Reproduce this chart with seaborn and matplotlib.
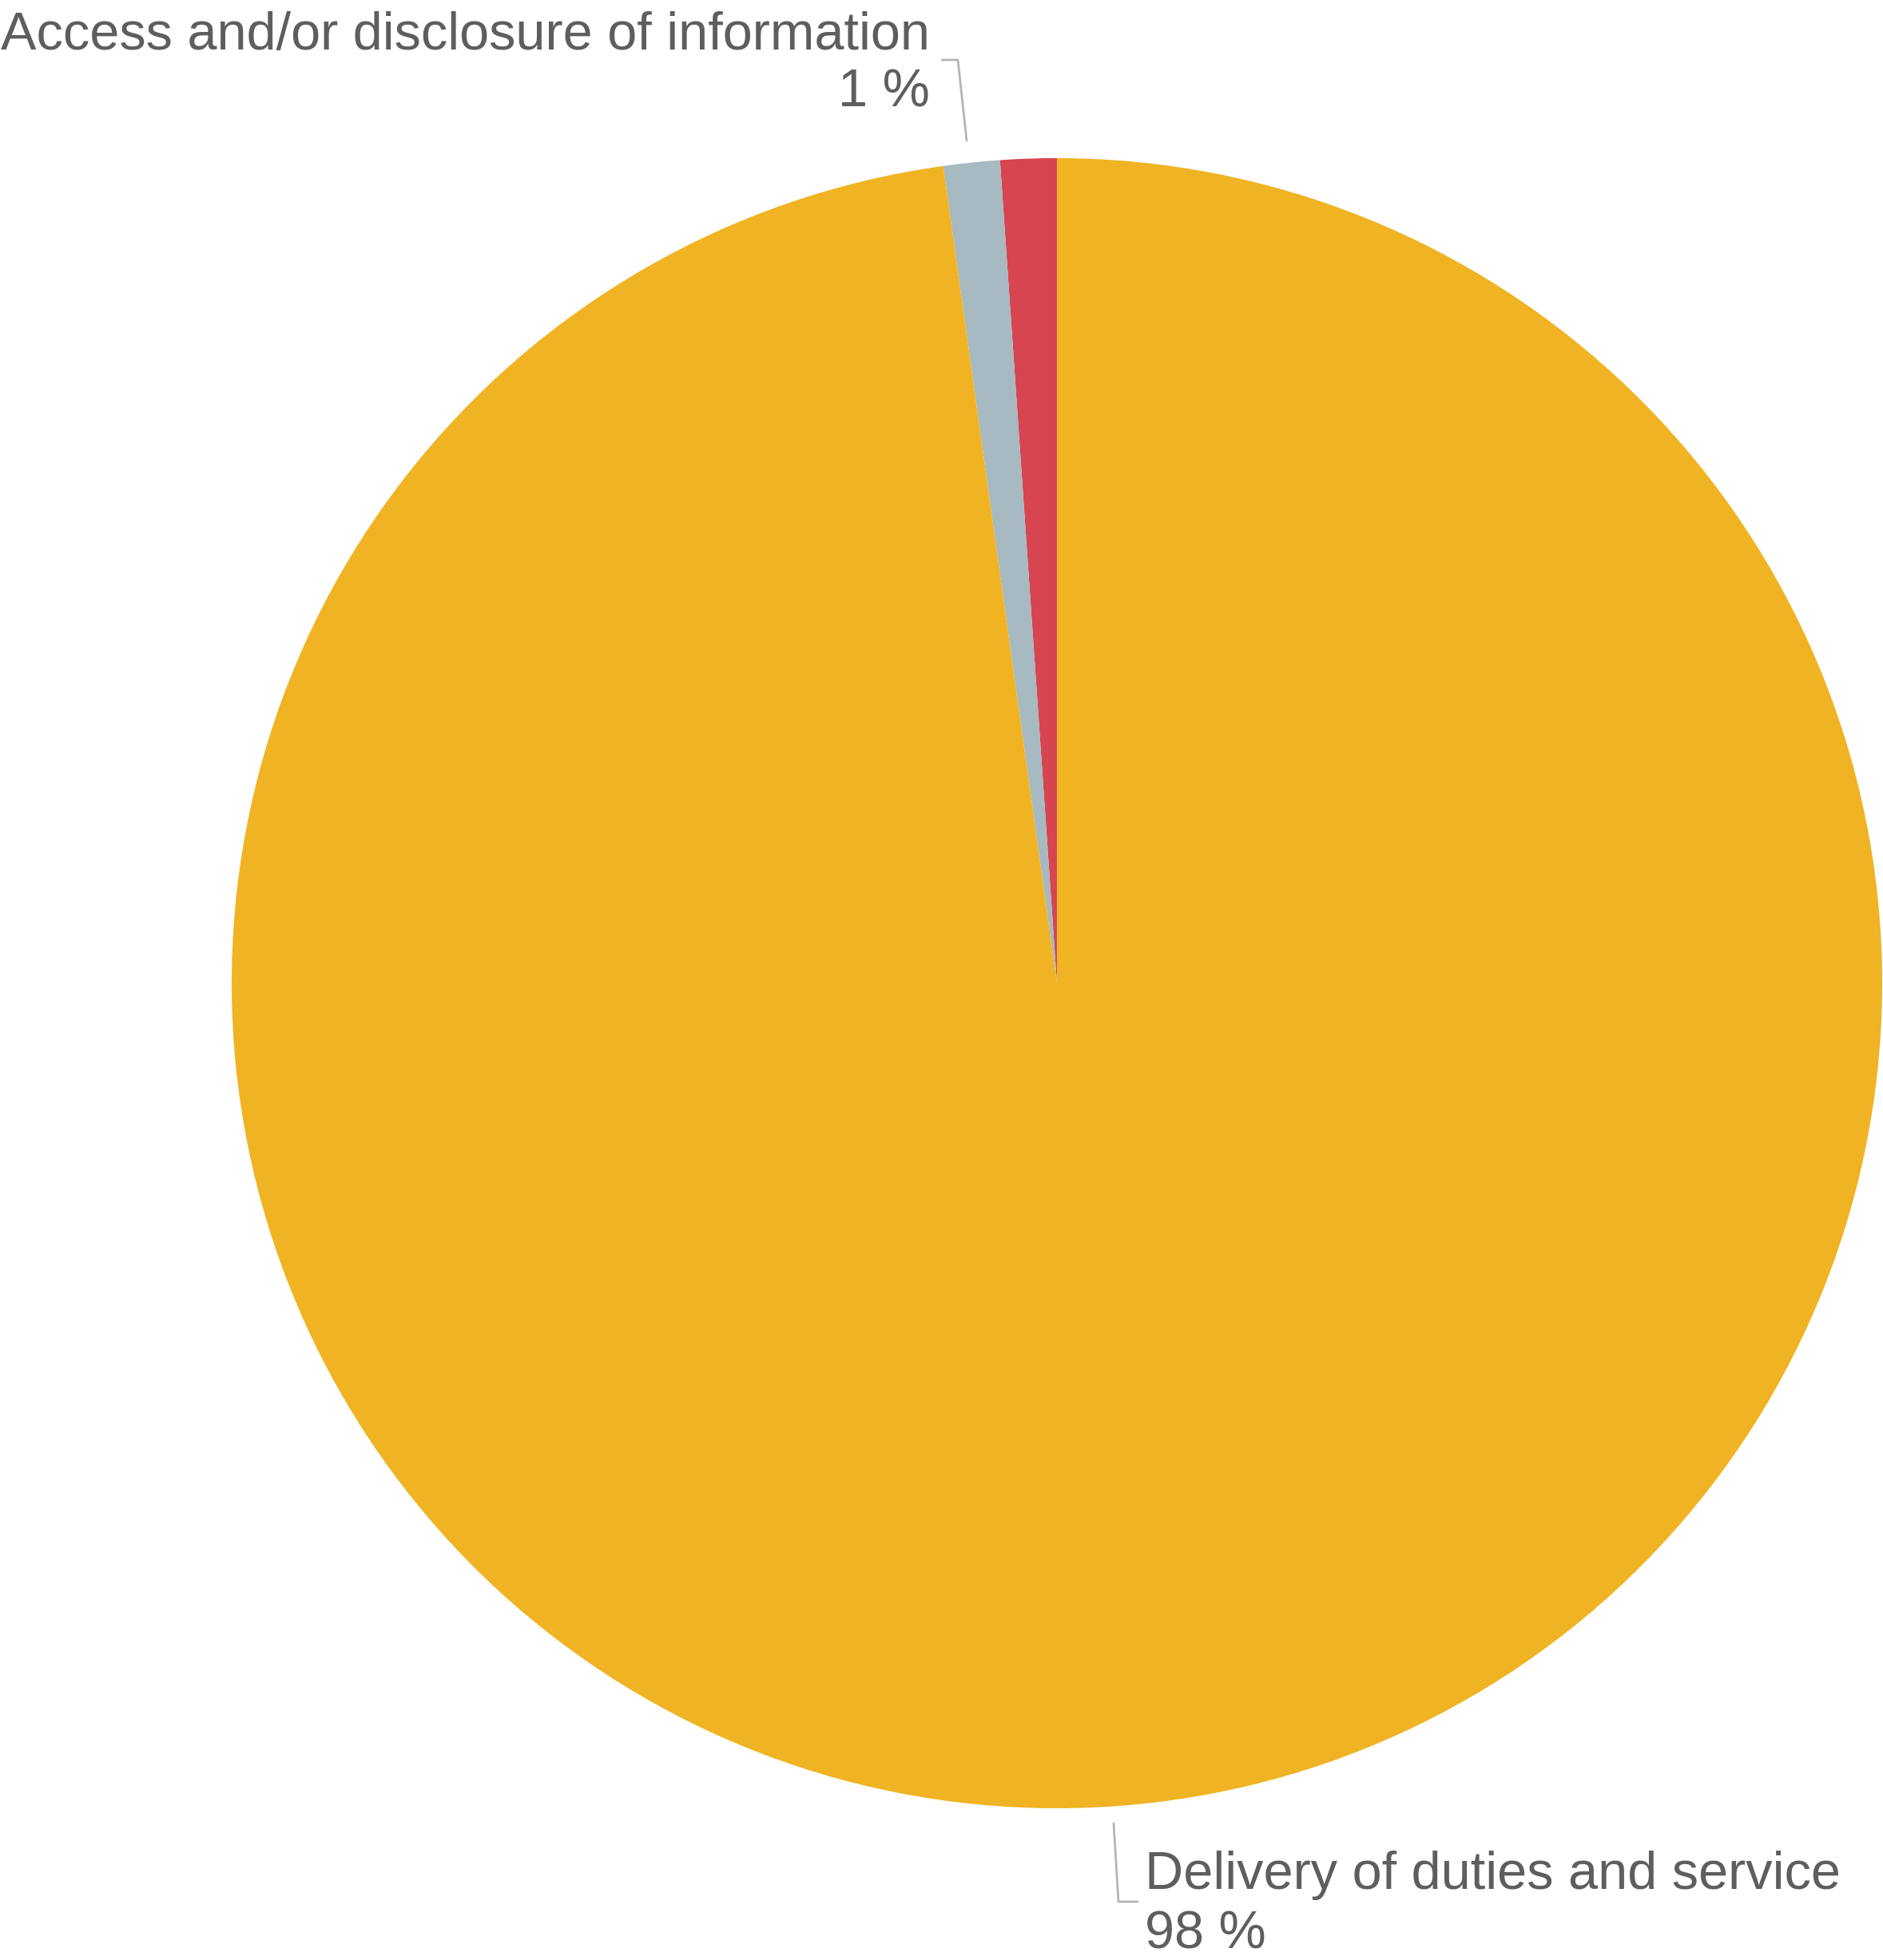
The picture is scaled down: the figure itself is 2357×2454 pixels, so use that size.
import matplotlib
matplotlib.use("Agg")
import matplotlib.pyplot as plt
import seaborn as sns

# Dados
categorias = ["Other", "Access and/or disclosure of information", "Delivery of duties and service"]
valores = [1.1, 1.1, 97.8]
cores = ["#D64550", "#A7B9C1", "#F0B323"]

sns.set_theme(style="white")
plt.rcParams["font.family"] = ["Liberation Sans", "DejaVu Sans"]

W, H = 2357, 2454
fig = plt.figure(figsize=(W / 100, H / 100), dpi=100)
ax = fig.add_axes([0, 0, 1, 1])

cx, cy, raio = 1323, H - 1231, 1033
ax.pie(valores, colors=cores, startangle=90, counterclock=True,
       center=(cx, cy), radius=raio, wedgeprops=dict(linewidth=0))

ax.set_xlim(0, W)
ax.set_ylim(0, H)
ax.axis("off")

cor_texto = "#5E5E5E"
cor_linha = "#B4B4B4"
fs = 48

def py(y):
    return H - y

# Rótulo "Access and/or disclosure of information"
ax.text(1164, py(62), categorias[1], ha="right", va="baseline", fontsize=fs, color=cor_texto)
ax.text(1164, py(134), f"{round(valores[1])} %", ha="right", va="baseline", fontsize=fs, color=cor_texto)
ax.plot([1179, 1199, 1210], [py(75), py(75), py(176)], color=cor_linha, lw=2)

# Rótulo "Delivery of duties and service"
ax.text(1433, py(2365), categorias[2], ha="left", va="baseline", fontsize=fs, color=cor_texto)
ax.text(1433, py(2440), f"{round(valores[2])} %", ha="left", va="baseline", fontsize=fs, color=cor_texto)
ax.plot([1394, 1400, 1424], [py(2283), py(2381), py(2381)], color=cor_linha, lw=2)

fig.savefig("out.png", dpi=100, facecolor="white")
